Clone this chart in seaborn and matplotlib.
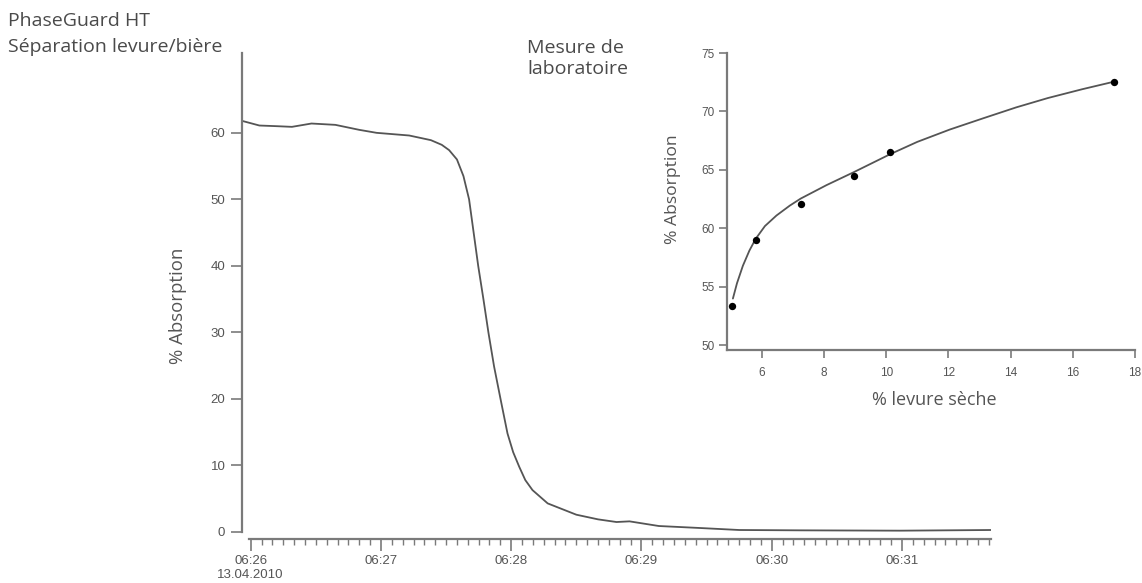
import pandas as pd
import numpy as np
import matplotlib
matplotlib.use("Agg")
import matplotlib.pyplot as plt
import matplotlib.dates as mdates
import seaborn as sns

# main curve: absorption over time (13.04.2010)
times = ["06:25:56", "06:26:04", "06:26:12", "06:26:19", "06:26:28", "06:26:39",
         "06:26:50", "06:26:58", "06:27:13", "06:27:23", "06:27:28", "06:27:31.4",
         "06:27:35", "06:27:38", "06:27:40.6", "06:27:42.7", "06:27:44.8", "06:27:47.2",
         "06:27:49.5", "06:27:52.1", "06:27:55.2", "06:27:58.3", "06:28:00.9", "06:28:03.7",
         "06:28:06.5", "06:28:09.8", "06:28:16.8", "06:28:30", "06:28:40", "06:28:48.5",
         "06:28:54.5", "06:29:08", "06:29:27", "06:29:45", "06:30:13", "06:30:59",
         "06:31:41"]
absorption = [61.8, 61.1, 61.0, 60.9, 61.4, 61.2,
              60.45, 60.0, 59.6, 58.9, 58.2, 57.4,
              56.0, 53.5, 50.0, 45.0, 40.0, 35.0,
              30.0, 24.9, 19.8, 14.8, 12.0, 9.8,
              7.8, 6.3, 4.3, 2.6, 1.9, 1.5,
              1.6, 0.9, 0.6, 0.3, 0.25, 0.2,
              0.3]

# lab measurement (inset)
lab_levure = [5.04, 5.8, 7.25, 8.95, 10.13, 17.33]
lab_absorption = [53.4, 59.0, 62.05, 64.45, 66.5, 72.5]

fit_levure = [5.07, 5.2, 5.39, 5.6, 5.8, 6.1, 6.47, 6.9, 7.25, 8.08, 8.95,
              10.13, 11.0, 12.04, 13.1, 14.18, 15.2, 16.3, 17.33]
fit_absorption = [54.0, 55.3, 56.8, 58.1, 59.1, 60.2, 61.1, 61.95, 62.55, 63.7, 64.8,
                  66.35, 67.4, 68.45, 69.4, 70.35, 71.15, 71.9, 72.55]

main_ticks = [0, 10, 20, 30, 40, 50, 60]
inset_xticks = [6, 8, 10, 12, 14, 16, 18]
inset_yticks = [50, 55, 60, 65, 70, 75]

df = pd.DataFrame({"time": pd.to_datetime("2010-04-13 " + pd.Series(times), format="mixed"),
                   "absorption": absorption})
lab = pd.DataFrame({"levure": lab_levure, "absorption": lab_absorption})
fit = pd.DataFrame({"levure": fit_levure, "absorption": fit_absorption})

sns.set_style("ticks")
plt.rcParams["font.family"] = ["Open Sans", "DejaVu Sans"]

TXT = "#4a4a4a"
AX = "#7a7a7a"
LINE = "#555555"
TICKTXT = "#555555"

fig = plt.figure(figsize=(11.42, 5.83), dpi=100)

# ---- main axes
ax = fig.add_axes([242 / 1142, 1 - 532 / 583, 749 / 1142, 479 / 583])
sns.lineplot(data=df, x="time", y="absorption", ax=ax, color=LINE, linewidth=1.3)
t0 = mdates.date2num(df["time"].iloc[0])
t1 = mdates.date2num(df["time"].iloc[-1])
ax.set_xlim(t0, t1)
ax.set_ylim(0, 72)
ax.set_xlabel("")
ax.set_ylabel("")
ax.set_yticks(main_ticks)

ax.xaxis.set_major_locator(mdates.MinuteLocator())
ax.xaxis.set_minor_locator(mdates.SecondLocator(bysecond=range(5, 60, 5)))


def fmt_time(x, pos):
    d = mdates.num2date(x)
    label = d.strftime("%H:%M")
    if pos == 0:
        label += "\n" + d.strftime("%d.%m.%Y")
    return label


ax.xaxis.set_major_formatter(plt.FuncFormatter(fmt_time))

sns.despine(ax=ax)
ax.spines["bottom"].set_position(("outward", 5))
ax.spines["bottom"].set_bounds(mdates.date2num(pd.Timestamp("2010-04-13 06:25:59")), t1)
for s in ["left", "bottom"]:
    ax.spines[s].set_color(AX)
    ax.spines[s].set_linewidth(1.6)
ax.tick_params(axis="y", length=8, width=1.2, color=AX, labelsize=9.5, labelcolor=TICKTXT, pad=4)
ax.tick_params(axis="x", which="major", length=8.5, width=1.2, color=AX, labelsize=9.5,
               labelcolor=TICKTXT, pad=3)
ax.tick_params(axis="x", which="minor", length=4.5, width=1.0, color=AX)
for lab_t in ax.get_xticklabels() + ax.get_yticklabels():
    lab_t.set_fontfamily(["Liberation Sans", "DejaVu Sans"])

# ---- inset axes
ins = fig.add_axes([727 / 1142, 1 - 350 / 583, 408 / 1142, 297 / 583])
ins.patch.set_alpha(0)
sns.lineplot(data=fit, x="levure", y="absorption", ax=ins, color=LINE, linewidth=1.3, sort=False)
sns.scatterplot(data=lab, x="levure", y="absorption", ax=ins, color="black", s=28,
                edgecolor="black", linewidth=0, zorder=3)
ins.set_xlim(4.88, 18)
ins.set_ylim(49.6, 75)
ins.set_xticks(inset_xticks)
ins.set_yticks(inset_yticks)
ins.set_xlabel("")
ins.set_ylabel("")
sns.despine(ax=ins)
for s in ["left", "bottom"]:
    ins.spines[s].set_color(AX)
    ins.spines[s].set_linewidth(1.6)
ins.tick_params(length=6, width=1.2, color=AX, labelsize=8.5, labelcolor=TICKTXT, pad=3)
ins.tick_params(axis="x", pad=6)
for lab_t in ins.get_xticklabels() + ins.get_yticklabels():
    lab_t.set_fontfamily(["Liberation Sans", "DejaVu Sans"])

# ---- texts
fs_title = 14
fig.text(8 / 1142, 1 - 26.5 / 583, "PhaseGuard HT", fontsize=fs_title, color=TXT, va="baseline")
fig.text(8 / 1142, 1 - 52 / 583, "Séparation levure/bière", fontsize=fs_title, color=TXT, va="baseline")
fig.text(527 / 1142, 1 - 53.3 / 583, "Mesure de", fontsize=fs_title, color=TXT, va="baseline")
fig.text(527 / 1142, 1 - 74 / 583, "laboratoire", fontsize=fs_title, color=TXT, va="baseline")

fig.text(178 / 1142, 1 - 306 / 583, "% Absorption", fontsize=13.4, color=TICKTXT,
         rotation=90, ha="center", va="center")
fig.text(673 / 1142, 1 - 189 / 583, "% Absorption", fontsize=12.6, color=TICKTXT,
         rotation=90, ha="center", va="center")
fig.text(934 / 1142, 1 - 400 / 583, "% levure sèche", fontsize=13, color=TICKTXT,
         ha="center", va="center")

plt.savefig("out.png", dpi=100)
